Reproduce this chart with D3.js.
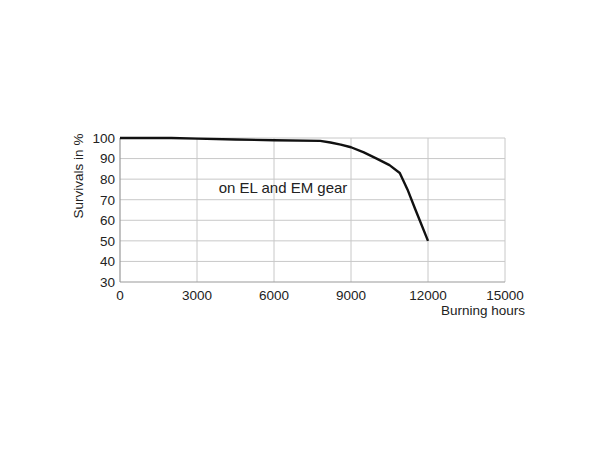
<!DOCTYPE html>
<html><head><meta charset="utf-8">
<script src="https://cdn.jsdelivr.net/npm/d3@7"></script>
<style>body{margin:0;background:#fff}</style>
</head><body>
<svg id="c" width="600" height="450"></svg>
<script>
const hours = [0, 2000, 3000, 4500, 6000, 7800, 8200, 8600, 9000, 9500, 10000, 10500, 10900, 11200, 11500, 12000];
const survival = [100, 100, 99.7, 99.3, 98.9, 98.6, 97.8, 96.8, 95.5, 93, 90, 86.8, 83, 75, 65.5, 50];
const xTicks = [0, 3000, 6000, 9000, 12000, 15000];
const yTicks = [30, 40, 50, 60, 70, 80, 90, 100];
const label = "on EL and EM gear";
const xTitle = "Burning hours";
const yTitle = "Survivals in %";

const svg = d3.select("#c");
const x = d3.scaleLinear().domain([0, 15000]).range([120, 505]);
const y = d3.scaleLinear().domain([30, 100]).range([282, 138]);
const font = "Liberation Sans, Arial, sans-serif";

// grid
svg.append("g").selectAll("line").data(yTicks.slice(1)).join("line")
  .attr("x1", x(0)).attr("x2", x(15000)).attr("y1", d => y(d)).attr("y2", d => y(d))
  .attr("stroke", "#c8c8c8").attr("stroke-width", 1);
svg.append("g").selectAll("line").data(xTicks.slice(1)).join("line")
  .attr("y1", y(30)).attr("y2", y(100)).attr("x1", d => x(d)).attr("x2", d => x(d))
  .attr("stroke", "#c8c8c8").attr("stroke-width", 1);
// axes lines
svg.append("line").attr("x1", x(0)).attr("x2", x(0)).attr("y1", y(30)).attr("y2", y(100))
  .attr("stroke", "#999").attr("stroke-width", 1.2);
svg.append("line").attr("x1", x(0)).attr("x2", x(15000)).attr("y1", y(30)).attr("y2", y(30))
  .attr("stroke", "#999").attr("stroke-width", 1.2);

// tick labels
svg.append("g").selectAll("text").data(yTicks).join("text")
  .attr("x", 115).attr("y", d => y(d)).attr("dy", "0.36em")
  .attr("text-anchor", "end").attr("font-family", font).attr("font-size", 13.5)
  .attr("fill", "#222").text(d => d);
svg.append("g").selectAll("text").data(xTicks).join("text")
  .attr("x", d => x(d)).attr("y", 300)
  .attr("text-anchor", "middle").attr("font-family", font).attr("font-size", 13.5)
  .attr("fill", "#222").text(d => d);

// titles
svg.append("text").attr("x", 525).attr("y", 315).attr("text-anchor", "end")
  .attr("font-family", font).attr("font-size", 13.5).attr("fill", "#222").text(xTitle);
svg.append("text").attr("transform", "translate(83,176) rotate(-90)").attr("text-anchor", "middle")
  .attr("font-family", font).attr("font-size", 13.5).attr("fill", "#222").text(yTitle);

// series label
svg.append("text").attr("x", 283).attr("y", 193).attr("text-anchor", "middle")
  .attr("font-family", font).attr("font-size", 15).attr("fill", "#222").text(label);

// line
const line = d3.line().x((d, i) => x(hours[i])).y(d => y(d));
svg.append("path").datum(survival).attr("d", line)
  .attr("fill", "none").attr("stroke", "#111").attr("stroke-width", 2.4)
  .attr("stroke-linejoin", "round");
</script>
</body></html>
